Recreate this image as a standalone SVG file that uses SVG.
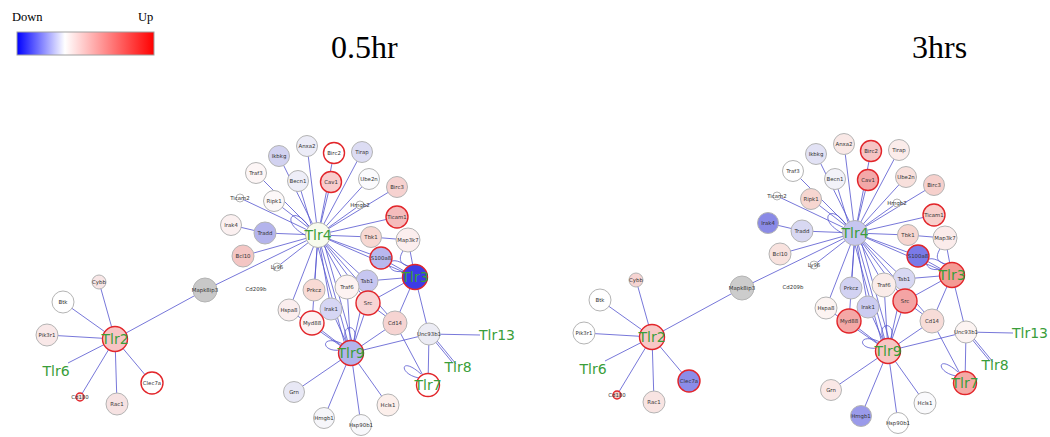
<svg xmlns="http://www.w3.org/2000/svg" xmlns:xlink="http://www.w3.org/1999/xlink" width="1050" height="437" viewBox="0 0 1050 437">
<defs>
<linearGradient id="lg" x1="0" y1="0" x2="1" y2="0">
<stop offset="0" stop-color="#0000ff"/>
<stop offset="0.35" stop-color="#ffffff"/>
<stop offset="1" stop-color="#ff0000"/>
</linearGradient>
<style>
.e{stroke:#5555d0;stroke-width:1;stroke-opacity:0.8;fill:none}
.n circle{stroke:#b4b4b4;stroke-width:1}
.n.r circle{stroke:#e2252a;stroke-width:1.4}
.n text{font-family:"DejaVu Sans",sans-serif;font-size:5.4px;fill:#333;text-anchor:middle;dominant-baseline:central}
.n.t text{font-size:14px;fill:#3a9e3a}
.lbl{font-family:"DejaVu Sans",sans-serif;font-size:14px;fill:#3a9e3a;text-anchor:middle;dominant-baseline:central}
.sm{font-family:"DejaVu Sans",sans-serif;font-size:5.4px;fill:#333;text-anchor:middle;dominant-baseline:central}
.title{font-family:"Liberation Serif",serif;font-size:32px;fill:#000}
.leg{font-family:"Liberation Serif",serif;font-size:12.5px;fill:#000}
</style>
</defs>
<rect width="1050" height="437" fill="#ffffff"/>
<g id="legend">
<text class="leg" x="12" y="21">Down</text>
<text class="leg" x="138" y="21">Up</text>
<rect x="17" y="32" width="137" height="23" fill="url(#lg)" stroke="#a0a0a0" stroke-width="1"/>
</g>
<text id="title-05" class="title" x="331" y="58">0.5hr</text>
<text id="title-3" class="title" x="912" y="58">3hrs</text>

<!-- ========== 0.5hr network ========== -->
<g id="net-05hr">
<g id="l-connectors">
<path class="e" d="M318,235L307,146M318,235L334,153M318,235L362,152M318,235L279,156M318,235L256,173M314,234L298,181M318,235L331,182M318,235L369,179M318,235L397,187M318,235L240,198M318,235L274,201M318,235L360,205M318,235L397,217M318,235L265,233M318,235L371,237M318,235L243,256M318,235L277,267M318,235L205,290M318,235L381,258M318,235L415,277M318,235L367,281M318,235L347,287M318,235L368,303M318,235L314,290M318,235L331,309M318,235L312,323M318,235L289,310M318,235L351,353M322,236L355,352M315,236L347,352M318,235L395,323"/>
<path class="e" d="M231,225L265,233M371,237L408,240M408,240L415,277M381,258L415,277M367,281L415,277M368,303L415,277M395,323L415,277M429,334L415,277"/>
<path class="e" d="M351,353L312,323M351,353L331,309M351,353L347,287M351,353L368,303M351,353L367,281M351,353L395,323M351,353L429,334M351,353L294,392M351,353L324,418M351,353L361,425M351,353L388,405M351,353L289,310M368,303L395,323M395,323L428,385M429,334L480,335M429,334L452,362M433,336L456,364M429,334L428,385"/>
<path class="e" d="M115,339L99,282M115,339L63,302M115,339L47,335M115,339L68,363M115,339L80,397M115,339L117,404M115,339L152,383M115,339L205,290"/>
<path class="e" d="M309,227C294,203 278,222 307,236M404,271C384,276 384,250 407,266M403,251C396,262 404,266 411,266M341,350C320,353 320,333 343,344M347,342C338,324 360,322 354,341M419,378C398,374 400,355 421,374"/>
</g>
<g id="l-nodes">
<g id="l-Anxa2" class="n"><circle cx="307" cy="146" r="10.5" fill="#ececf7"/><text x="307" y="146">Anxa2</text></g>
<g id="l-Birc2" class="n r"><circle cx="334" cy="153" r="10.5" fill="#ffffff"/><text x="334" y="153">Birc2</text></g>
<g id="l-Tirap" class="n"><circle cx="362" cy="152" r="10.5" fill="#dcdcf3"/><text x="362" y="152">Tirap</text></g>
<g id="l-Ikbkg" class="n"><circle cx="279" cy="156" r="10.5" fill="#d2d2f0"/><text x="279" y="156">Ikbkg</text></g>
<g id="l-Traf3" class="n"><circle cx="256" cy="173" r="10.5" fill="#fdf6f6"/><text x="256" y="173">Traf3</text></g>
<g id="l-Becn1" class="n"><circle cx="298" cy="181" r="10.5" fill="#eeeef8"/><text x="298" y="181">Becn1</text></g>
<g id="l-Cav1" class="n r"><circle cx="331" cy="182" r="10.5" fill="#f8cccc"/><text x="331" y="182">Cav1</text></g>
<g id="l-Ube2n" class="n"><circle cx="369" cy="179" r="10.5" fill="#fbfbfd"/><text x="369" y="179">Ube2n</text></g>
<g id="l-Birc3" class="n"><circle cx="397" cy="187" r="10.5" fill="#f6d2d0"/><text x="397" y="187">Birc3</text></g>
<g id="l-Ticam2" class="n"><circle cx="240" cy="198" r="4" fill="#ffffff"/><text x="240" y="198">Ticam2</text></g>
<g id="l-Ripk1" class="n"><circle cx="274" cy="201" r="10.5" fill="#fcf8f8"/><text x="274" y="201">Ripk1</text></g>
<g id="l-Hmgb2" class="n"><circle cx="360" cy="205" r="4" fill="#ffffff"/><text x="360" y="205">Hmgb2</text></g>
<g id="l-Ticam1" class="n r"><circle cx="397" cy="217" r="11" fill="#f5bcbc"/><text x="397" y="217">Ticam1</text></g>
<g id="l-Irak4" class="n"><circle cx="231" cy="225" r="10.5" fill="#fbf0f0"/><text x="231" y="225">Irak4</text></g>
<g id="l-Tradd" class="n"><circle cx="265" cy="233" r="11" fill="#b4b4ec"/><text x="265" y="233">Tradd</text></g>
<g id="l-Tbk1" class="n"><circle cx="371" cy="237" r="10.5" fill="#f7d8d2"/><text x="371" y="237">Tbk1</text></g>
<g id="l-Map3k7" class="n"><circle cx="408" cy="240" r="12" fill="#fbeeee"/><text x="408" y="240">Map3k7</text></g>
<g id="l-Bcl10" class="n"><circle cx="243" cy="256" r="11" fill="#f4c6c4"/><text x="243" y="256">Bcl10</text></g>
<g id="l-Ly96" class="n"><circle cx="277" cy="267" r="4" fill="#ffffff"/><text x="277" y="267">Ly96</text></g>
<g id="l-Cd209b"><text class="sm" x="256" y="289">Cd209b</text></g>
<g id="l-Tlr4" class="n t"><circle cx="318" cy="235" r="12.5" fill="#f8fbee"/><text x="318" y="235">Tlr4</text></g>
<g id="l-S100a8" class="n r"><circle cx="381" cy="258" r="11" fill="#b8b8ee"/><text x="381" y="258">S100a8</text></g>
<g id="l-Tab1" class="n"><circle cx="367" cy="281" r="11" fill="#c6c6f0"/><text x="367" y="281">Tab1</text></g>
<g id="l-Prkcz" class="n"><circle cx="314" cy="290" r="11" fill="#f8dad4"/><text x="314" y="290">Prkcz</text></g>
<g id="l-Traf6" class="n"><circle cx="347" cy="287" r="12" fill="#fdf3f2"/><text x="347" y="287">Traf6</text></g>
<g id="l-Src" class="n r"><circle cx="368" cy="303" r="12" fill="#f8d4d4"/><text x="368" y="303">Src</text></g>
<g id="l-Hspa8" class="n"><circle cx="289" cy="310" r="11" fill="#fbeeee"/><text x="289" y="310">Hspa8</text></g>
<g id="l-Irak1" class="n"><circle cx="331" cy="309" r="11" fill="#d6d6f4"/><text x="331" y="309">Irak1</text></g>
<g id="l-Myd88" class="n r"><circle cx="312" cy="323" r="12" fill="#fdf2f2"/><text x="312" y="323">Myd88</text></g>
<g id="l-Cd14" class="n"><circle cx="395" cy="323" r="12" fill="#f6d4d2"/><text x="395" y="323">Cd14</text></g>
<g id="l-Unc93b1" class="n"><circle cx="429" cy="334" r="11" fill="#ececf4"/><text x="429" y="334">Unc93b1</text></g>
<g id="l-Tlr3" class="n r t"><circle cx="415" cy="277" r="12.5" fill="#3c3ce6"/><text x="415" y="277">Tlr3</text></g>
<g id="l-Tlr9" class="n r t"><circle cx="351" cy="353" r="12.5" fill="#b4b4ec"/><text x="351" y="353">Tlr9</text></g>
<g id="l-Tlr7" class="n r t"><circle cx="428" cy="385" r="11.5" fill="#ffffff"/><text x="428" y="385">Tlr7</text></g>
<g id="l-Tlr13"><text class="lbl" x="497" y="335">Tlr13</text></g>
<g id="l-Tlr8"><text class="lbl" x="458" y="367">Tlr8</text></g>
<g id="l-Grn" class="n"><circle cx="294" cy="392" r="10.5" fill="#e8e8f5"/><text x="294" y="392">Grn</text></g>
<g id="l-Hmgb1" class="n"><circle cx="324" cy="418" r="10.5" fill="#f6f6fa"/><text x="324" y="418">Hmgb1</text></g>
<g id="l-Hsp90b1" class="n"><circle cx="361" cy="425" r="10.5" fill="#f8f8fb"/><text x="361" y="425">Hsp90b1</text></g>
<g id="l-Hcls1" class="n"><circle cx="388" cy="405" r="11" fill="#fcefeb"/><text x="388" y="405">Hcls1</text></g>
<g id="l-Cybb" class="n"><circle cx="99" cy="282" r="7" fill="#f8e6e6"/><text x="99" y="282">Cybb</text></g>
<g id="l-Btk" class="n"><circle cx="63" cy="302" r="11" fill="#ffffff"/><text x="63" y="302">Btk</text></g>
<g id="l-Mapk8ip3" class="n"><circle cx="205" cy="290" r="12" fill="#c8c8c8"/><text x="205" y="290">Mapk8ip3</text></g>
<g id="l-Pik3r1" class="n"><circle cx="47" cy="335" r="11" fill="#f9e8e8"/><text x="47" y="335">Pik3r1</text></g>
<g id="l-Tlr2" class="n r t"><circle cx="115" cy="339" r="12.5" fill="#f8c4c4"/><text x="115" y="339">Tlr2</text></g>
<g id="l-Tlr6"><text class="lbl" x="56" y="371">Tlr6</text></g>
<g id="l-Clec7a" class="n r"><circle cx="152" cy="383" r="11" fill="#ffffff"/><text x="152" y="383">Clec7a</text></g>
<g id="l-Cd180" class="n r"><circle cx="80" cy="397" r="4" fill="#fbe6e6"/><text x="80" y="397">Cd180</text></g>
<g id="l-Rac1" class="n"><circle cx="117" cy="404" r="11" fill="#f6e2e2"/><text x="117" y="404">Rac1</text></g>
</g>
</g>

<!-- ========== 3hrs network ========== -->
<g id="net-3hrs" transform="translate(537,-2)">
<g id="r-connectors">
<path class="e" d="M318,235L307,146M318,235L334,153M318,235L362,152M318,235L279,156M318,235L256,173M314,234L298,181M318,235L331,182M318,235L369,179M318,235L397,187M318,235L240,198M318,235L274,201M318,235L360,205M318,235L397,217M318,235L265,233M318,235L371,237M318,235L243,256M318,235L277,267M318,235L205,290M318,235L381,258M318,235L415,277M318,235L367,281M318,235L347,287M318,235L368,303M318,235L314,290M318,235L331,309M318,235L312,323M318,235L289,310M318,235L351,353M322,236L355,352M315,236L347,352M318,235L395,323"/>
<path class="e" d="M231,225L265,233M371,237L408,240M408,240L415,277M381,258L415,277M367,281L415,277M368,303L415,277M395,323L415,277M429,334L415,277"/>
<path class="e" d="M351,353L312,323M351,353L331,309M351,353L347,287M351,353L368,303M351,353L367,281M351,353L395,323M351,353L429,334M351,353L294,392M351,353L324,418M351,353L361,425M351,353L388,405M351,353L289,310M368,303L395,323M395,323L428,385M429,334L476,335M429,334L452,362M433,336L456,364M429,334L428,385"/>
<path class="e" d="M115,339L99,282M115,339L63,302M115,339L47,335M115,339L68,363M115,339L80,397M115,339L117,404M115,339L152,383M115,339L205,290"/>
<path class="e" d="M309,227C294,203 278,222 307,236M404,271C384,276 384,250 407,266M403,251C396,262 404,266 411,266M341,350C320,353 320,333 343,344M347,342C338,324 360,322 354,341M419,378C398,374 400,355 421,374"/>
</g>
<g id="r-nodes">
<g id="r-Anxa2" class="n"><circle cx="307" cy="146" r="10.5" fill="#f9e8e6"/><text x="307" y="146">Anxa2</text></g>
<g id="r-Birc2" class="n r"><circle cx="334" cy="153" r="10.5" fill="#f6c4c4"/><text x="334" y="153">Birc2</text></g>
<g id="r-Tirap" class="n"><circle cx="362" cy="152" r="10.5" fill="#fbecea"/><text x="362" y="152">Tirap</text></g>
<g id="r-Ikbkg" class="n"><circle cx="279" cy="156" r="10.5" fill="#e2e2f5"/><text x="279" y="156">Ikbkg</text></g>
<g id="r-Traf3" class="n"><circle cx="256" cy="173" r="10.5" fill="#ffffff"/><text x="256" y="173">Traf3</text></g>
<g id="r-Becn1" class="n"><circle cx="298" cy="181" r="10.5" fill="#f2f2f9"/><text x="298" y="181">Becn1</text></g>
<g id="r-Cav1" class="n r"><circle cx="331" cy="182" r="10.5" fill="#f3a8a8"/><text x="331" y="182">Cav1</text></g>
<g id="r-Ube2n" class="n"><circle cx="369" cy="179" r="10.5" fill="#f8e0dc"/><text x="369" y="179">Ube2n</text></g>
<g id="r-Birc3" class="n"><circle cx="397" cy="187" r="10.5" fill="#f6d0cc"/><text x="397" y="187">Birc3</text></g>
<g id="r-Ticam2" class="n"><circle cx="240" cy="198" r="4" fill="#ffffff"/><text x="240" y="198">Ticam2</text></g>
<g id="r-Ripk1" class="n"><circle cx="274" cy="201" r="10.5" fill="#f6d6d0"/><text x="274" y="201">Ripk1</text></g>
<g id="r-Hmgb2" class="n"><circle cx="360" cy="205" r="4" fill="#ffffff"/><text x="360" y="205">Hmgb2</text></g>
<g id="r-Ticam1" class="n r"><circle cx="397" cy="217" r="11" fill="#f8d0cc"/><text x="397" y="217">Ticam1</text></g>
<g id="r-Irak4" class="n"><circle cx="231" cy="225" r="10.5" fill="#8a8ae6"/><text x="231" y="225">Irak4</text></g>
<g id="r-Tradd" class="n"><circle cx="265" cy="233" r="11" fill="#d8d8f2"/><text x="265" y="233">Tradd</text></g>
<g id="r-Tbk1" class="n"><circle cx="371" cy="237" r="10.5" fill="#f6d6d0"/><text x="371" y="237">Tbk1</text></g>
<g id="r-Map3k7" class="n"><circle cx="408" cy="240" r="12" fill="#fbeceb"/><text x="408" y="240">Map3k7</text></g>
<g id="r-Bcl10" class="n"><circle cx="243" cy="256" r="11" fill="#f8e2de"/><text x="243" y="256">Bcl10</text></g>
<g id="r-Ly96" class="n"><circle cx="277" cy="267" r="4" fill="#ffffff"/><text x="277" y="267">Ly96</text></g>
<g id="r-Cd209b"><text class="sm" x="256" y="289">Cd209b</text></g>
<g id="r-Tlr4" class="n t"><circle cx="318" cy="235" r="12.5" fill="#c6c6f0"/><text x="318" y="235">Tlr4</text></g>
<g id="r-S100a8" class="n r"><circle cx="381" cy="258" r="11" fill="#7a7ae8"/><text x="381" y="258">S100a8</text></g>
<g id="r-Tab1" class="n"><circle cx="367" cy="281" r="11" fill="#d8d8f3"/><text x="367" y="281">Tab1</text></g>
<g id="r-Prkcz" class="n"><circle cx="314" cy="290" r="11" fill="#d2d2f2"/><text x="314" y="290">Prkcz</text></g>
<g id="r-Traf6" class="n"><circle cx="347" cy="287" r="12" fill="#faece9"/><text x="347" y="287">Traf6</text></g>
<g id="r-Src" class="n r"><circle cx="368" cy="303" r="12" fill="#f4a4a4"/><text x="368" y="303">Src</text></g>
<g id="r-Hspa8" class="n"><circle cx="289" cy="310" r="11" fill="#fcf4f2"/><text x="289" y="310">Hspa8</text></g>
<g id="r-Irak1" class="n"><circle cx="331" cy="309" r="11" fill="#ccccf1"/><text x="331" y="309">Irak1</text></g>
<g id="r-Myd88" class="n r"><circle cx="312" cy="323" r="12" fill="#f4a8a6"/><text x="312" y="323">Myd88</text></g>
<g id="r-Cd14" class="n"><circle cx="395" cy="323" r="12" fill="#f7dcd8"/><text x="395" y="323">Cd14</text></g>
<g id="r-Unc93b1" class="n"><circle cx="429" cy="334" r="11" fill="#fcf4f2"/><text x="429" y="334">Unc93b1</text></g>
<g id="r-Tlr3" class="n r t"><circle cx="415" cy="277" r="12.5" fill="#f49a94"/><text x="415" y="277">Tlr3</text></g>
<g id="r-Tlr9" class="n r t"><circle cx="351" cy="353" r="12.5" fill="#f7c6c4"/><text x="351" y="353">Tlr9</text></g>
<g id="r-Tlr7" class="n r t"><circle cx="428" cy="385" r="11.5" fill="#f5aaa6"/><text x="428" y="385">Tlr7</text></g>
<g id="r-Tlr13"><text class="lbl" x="493" y="335">Tlr13</text></g>
<g id="r-Tlr8"><text class="lbl" x="458" y="367">Tlr8</text></g>
<g id="r-Grn" class="n"><circle cx="294" cy="392" r="10.5" fill="#fae8e6"/><text x="294" y="392">Grn</text></g>
<g id="r-Hmgb1" class="n"><circle cx="324" cy="418" r="10.5" fill="#9a9aea"/><text x="324" y="418">Hmgb1</text></g>
<g id="r-Hsp90b1" class="n"><circle cx="361" cy="425" r="10.5" fill="#ffffff"/><text x="361" y="425">Hsp90b1</text></g>
<g id="r-Hcls1" class="n"><circle cx="388" cy="405" r="11" fill="#fafafc"/><text x="388" y="405">Hcls1</text></g>
<g id="r-Cybb" class="n"><circle cx="99" cy="282" r="7" fill="#f6d4d2"/><text x="99" y="282">Cybb</text></g>
<g id="r-Btk" class="n"><circle cx="63" cy="302" r="11" fill="#ffffff"/><text x="63" y="302">Btk</text></g>
<g id="r-Mapk8ip3" class="n"><circle cx="205" cy="290" r="12" fill="#cccccc"/><text x="205" y="290">Mapk8ip3</text></g>
<g id="r-Pik3r1" class="n"><circle cx="47" cy="335" r="11" fill="#ffffff"/><text x="47" y="335">Pik3r1</text></g>
<g id="r-Tlr2" class="n r t"><circle cx="115" cy="339" r="12.5" fill="#f8c8c6"/><text x="115" y="339">Tlr2</text></g>
<g id="r-Tlr6"><text class="lbl" x="56" y="371">Tlr6</text></g>
<g id="r-Clec7a" class="n r"><circle cx="152" cy="383" r="11" fill="#8c8ce8"/><text x="152" y="383">Clec7a</text></g>
<g id="r-Cd180" class="n r"><circle cx="80" cy="397" r="4" fill="#f6d0cc"/><text x="80" y="397">Cd180</text></g>
<g id="r-Rac1" class="n"><circle cx="117" cy="404" r="11" fill="#f8e4e2"/><text x="117" y="404">Rac1</text></g>
</g>
</g>
</svg>
